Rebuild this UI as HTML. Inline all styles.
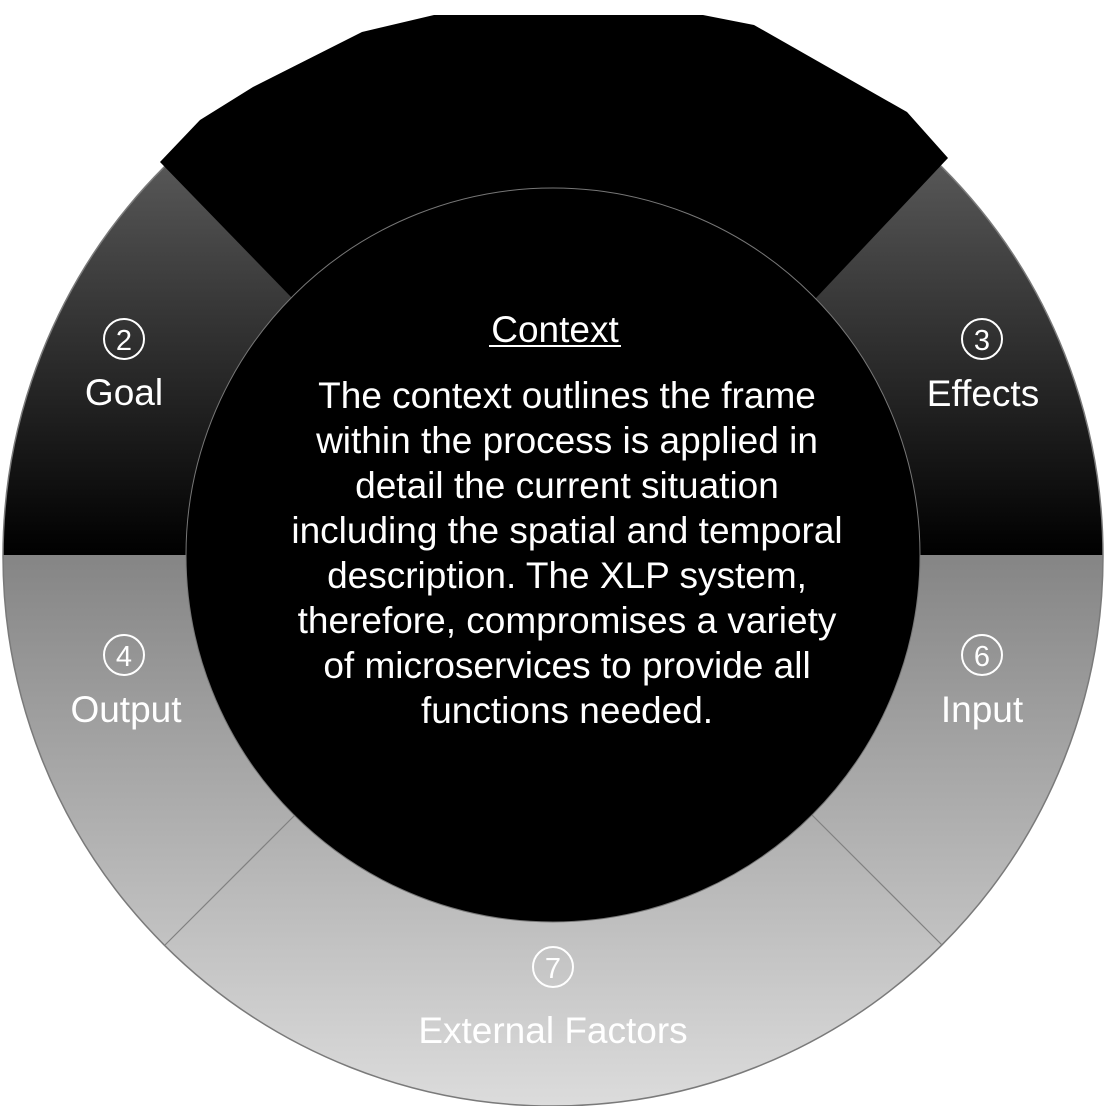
<!DOCTYPE html>
<html><head><meta charset="utf-8"><style>
html,body{margin:0;padding:0;background:#fff;width:1106px;height:1106px;overflow:hidden}
svg{display:block}
text{font-family:"Liberation Sans",Arial,sans-serif;fill:#fff}
</style></head><body>
<svg width="1106" height="1106" viewBox="0 0 1106 1106" xmlns="http://www.w3.org/2000/svg">
<defs>
<linearGradient id="top" x1="0" y1="160" x2="0" y2="555" gradientUnits="userSpaceOnUse">
<stop offset="0" stop-color="#585858"/><stop offset="1" stop-color="#000"/></linearGradient>
<linearGradient id="bot" x1="0" y1="555" x2="0" y2="1106" gradientUnits="userSpaceOnUse">
<stop offset="0" stop-color="#858585"/><stop offset="1" stop-color="#dcdcdc"/></linearGradient>
<clipPath id="oc"><circle cx="553" cy="556" r="550"/></clipPath>
</defs>
<g clip-path="url(#oc)">
<rect x="0" y="0" width="1106" height="555" fill="url(#top)"/>
<rect x="0" y="555" width="1106" height="560" fill="url(#bot)"/>
</g>
<circle cx="553" cy="556" r="550" fill="none" stroke="#7a7a7a" stroke-width="1.5"/>
<polygon points="0,0 1106,0 1106,158 948,158 907,112 754,25 703,15 434,15 362,32 253,87 200,120 160,162 0,162" fill="#fff"/>
<line x1="165" y1="945" x2="295" y2="815" stroke="#808080" stroke-width="1.2"/>
<line x1="942" y1="945" x2="812" y2="815" stroke="#808080" stroke-width="1.2"/>
<polygon points="160,162 200,120 253,87 362,32 434,15 703,15 754,25 907,112 948,158 816,298 292,298" fill="#000"/>
<circle cx="553" cy="555" r="367" fill="#000" stroke="#777" stroke-width="1"/>
<g fill="none" stroke="#fff" stroke-width="2">
<circle cx="124" cy="339" r="20"/><circle cx="982" cy="339" r="20"/>
<circle cx="124" cy="655" r="20"/><circle cx="982" cy="655" r="20"/>
<circle cx="553" cy="967" r="20"/>
</g>
<g font-size="29" text-anchor="middle">
<text x="124" y="350">2</text><text x="982" y="350">3</text>
<text x="124" y="666">4</text><text x="982" y="666">6</text>
<text x="553" y="978">7</text>
</g>
<g font-size="37" text-anchor="middle">
<text x="124" y="405">Goal</text>
<text x="983" y="406">Effects</text>
<text x="126" y="722">Output</text>
<text x="982" y="722">Input</text>
<text x="553" y="1043">External Factors</text>
</g>
<text x="555" y="342" font-size="37" text-anchor="middle">Context</text>
<line x1="489" y1="346" x2="621" y2="346" stroke="#fff" stroke-width="2"/>
<g font-size="37" text-anchor="middle">
<text x="567" y="408">The context outlines the frame</text>
<text x="567" y="453">within the process is applied in</text>
<text x="567" y="498">detail the current situation</text>
<text x="567" y="543">including the spatial and temporal</text>
<text x="567" y="588">description. The XLP system,</text>
<text x="567" y="633">therefore, compromises a variety</text>
<text x="567" y="678">of microservices to provide all</text>
<text x="567" y="723">functions needed.</text>
</g>
</svg>
</body></html>
